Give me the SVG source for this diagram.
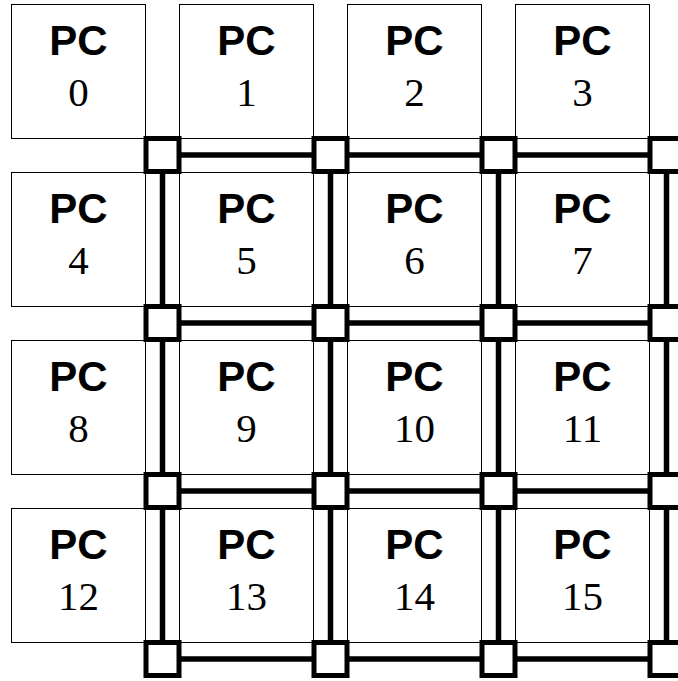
<svg xmlns="http://www.w3.org/2000/svg" width="678" height="681" viewBox="0 0 678 681">
<style>
.pc{fill:#fff;stroke:#000;stroke-width:1}
.rt{fill:#fff;stroke:#000;stroke-width:5}
.lk{stroke:#000;stroke-width:5.5;fill:none}
.t1{font-family:"Liberation Sans",Arial,sans-serif;font-weight:bold;font-size:42px;text-anchor:middle}
.t2{font-family:"Liberation Serif","Times New Roman",serif;font-size:41px;text-anchor:middle}
</style>
<rect width="678" height="681" fill="#fff"/>
<g id="pcs">
<g id="pc0"><rect class="pc" x="11.5" y="4.5" width="134" height="134"/><text class="t1" x="78.5" y="55">PC</text><text class="t2" x="78.5" y="106">0</text></g>
<g id="pc1"><rect class="pc" x="179.5" y="4.5" width="134" height="134"/><text class="t1" x="246.5" y="55">PC</text><text class="t2" x="246.5" y="106">1</text></g>
<g id="pc2"><rect class="pc" x="347.5" y="4.5" width="134" height="134"/><text class="t1" x="414.5" y="55">PC</text><text class="t2" x="414.5" y="106">2</text></g>
<g id="pc3"><rect class="pc" x="515.5" y="4.5" width="134" height="134"/><text class="t1" x="582.5" y="55">PC</text><text class="t2" x="582.5" y="106">3</text></g>
<g id="pc4"><rect class="pc" x="11.5" y="172.5" width="134" height="134"/><text class="t1" x="78.5" y="223">PC</text><text class="t2" x="78.5" y="274">4</text></g>
<g id="pc5"><rect class="pc" x="179.5" y="172.5" width="134" height="134"/><text class="t1" x="246.5" y="223">PC</text><text class="t2" x="246.5" y="274">5</text></g>
<g id="pc6"><rect class="pc" x="347.5" y="172.5" width="134" height="134"/><text class="t1" x="414.5" y="223">PC</text><text class="t2" x="414.5" y="274">6</text></g>
<g id="pc7"><rect class="pc" x="515.5" y="172.5" width="134" height="134"/><text class="t1" x="582.5" y="223">PC</text><text class="t2" x="582.5" y="274">7</text></g>
<g id="pc8"><rect class="pc" x="11.5" y="340.5" width="134" height="134"/><text class="t1" x="78.5" y="391">PC</text><text class="t2" x="78.5" y="442">8</text></g>
<g id="pc9"><rect class="pc" x="179.5" y="340.5" width="134" height="134"/><text class="t1" x="246.5" y="391">PC</text><text class="t2" x="246.5" y="442">9</text></g>
<g id="pc10"><rect class="pc" x="347.5" y="340.5" width="134" height="134"/><text class="t1" x="414.5" y="391">PC</text><text class="t2" x="414.5" y="442">10</text></g>
<g id="pc11"><rect class="pc" x="515.5" y="340.5" width="134" height="134"/><text class="t1" x="582.5" y="391">PC</text><text class="t2" x="582.5" y="442">11</text></g>
<g id="pc12"><rect class="pc" x="11.5" y="508.5" width="134" height="134"/><text class="t1" x="78.5" y="559">PC</text><text class="t2" x="78.5" y="610">12</text></g>
<g id="pc13"><rect class="pc" x="179.5" y="508.5" width="134" height="134"/><text class="t1" x="246.5" y="559">PC</text><text class="t2" x="246.5" y="610">13</text></g>
<g id="pc14"><rect class="pc" x="347.5" y="508.5" width="134" height="134"/><text class="t1" x="414.5" y="559">PC</text><text class="t2" x="414.5" y="610">14</text></g>
<g id="pc15"><rect class="pc" x="515.5" y="508.5" width="134" height="134"/><text class="t1" x="582.5" y="559">PC</text><text class="t2" x="582.5" y="610">15</text></g>
</g>
<g id="connectors">
<line class="lk" x1="162.5" y1="155" x2="666.5" y2="155"/>
<line class="lk" x1="162.5" y1="323" x2="666.5" y2="323"/>
<line class="lk" x1="162.5" y1="491" x2="666.5" y2="491"/>
<line class="lk" x1="162.5" y1="659" x2="666.5" y2="659"/>
<line class="lk" x1="162.5" y1="155" x2="162.5" y2="659"/>
<line class="lk" x1="330.5" y1="155" x2="330.5" y2="659"/>
<line class="lk" x1="498.5" y1="155" x2="498.5" y2="659"/>
<line class="lk" x1="666.5" y1="155" x2="666.5" y2="659"/>
</g>
<g id="routers">
<g id="r0"><rect class="rt" x="146" y="138.5" width="33" height="33"/></g>
<g id="r1"><rect class="rt" x="314" y="138.5" width="33" height="33"/></g>
<g id="r2"><rect class="rt" x="482" y="138.5" width="33" height="33"/></g>
<g id="r3"><rect class="rt" x="650" y="138.5" width="33" height="33"/></g>
<g id="r4"><rect class="rt" x="146" y="306.5" width="33" height="33"/></g>
<g id="r5"><rect class="rt" x="314" y="306.5" width="33" height="33"/></g>
<g id="r6"><rect class="rt" x="482" y="306.5" width="33" height="33"/></g>
<g id="r7"><rect class="rt" x="650" y="306.5" width="33" height="33"/></g>
<g id="r8"><rect class="rt" x="146" y="474.5" width="33" height="33"/></g>
<g id="r9"><rect class="rt" x="314" y="474.5" width="33" height="33"/></g>
<g id="r10"><rect class="rt" x="482" y="474.5" width="33" height="33"/></g>
<g id="r11"><rect class="rt" x="650" y="474.5" width="33" height="33"/></g>
<g id="r12"><rect class="rt" x="146" y="642.5" width="33" height="33"/></g>
<g id="r13"><rect class="rt" x="314" y="642.5" width="33" height="33"/></g>
<g id="r14"><rect class="rt" x="482" y="642.5" width="33" height="33"/></g>
<g id="r15"><rect class="rt" x="650" y="642.5" width="33" height="33"/></g>
</g>
</svg>
